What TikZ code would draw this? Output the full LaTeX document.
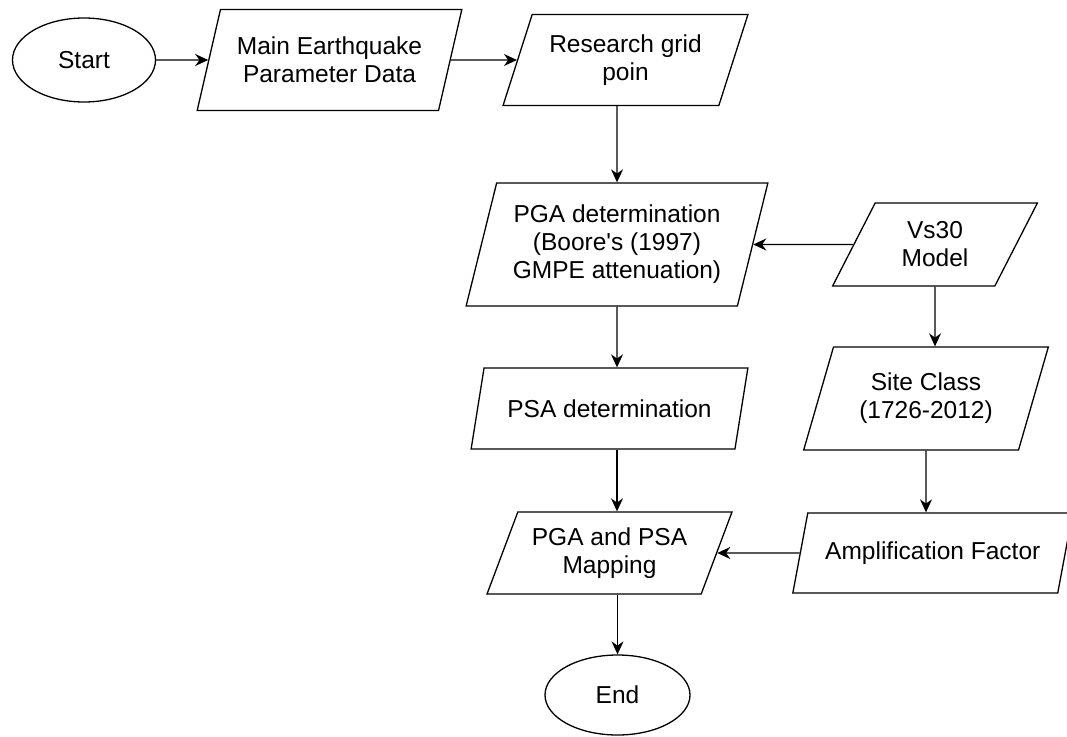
\documentclass[tikz,border=0pt]{standalone}
\usepackage{fontspec}
\setmainfont{Liberation Sans}
\usetikzlibrary{shapes.geometric,arrows.meta,positioning}
\tikzset{
    terminal/.style = {draw, ellipse,
        minimum width=143pt,
        minimum height=84pt},
    io/.style = {draw, trapezium, trapezium stretches=true,
        trapezium left angle=#1,
        trapezium right angle={180-#1},
        align=center, inner sep=2pt},
    io/.default = 64,
}

\begin{document}
\begin{tikzpicture}[auto, on grid, >={Stealth[length=13pt,width=12pt]},
    line width=1.3pt, font=\fontsize{24.5pt}{28pt}\selectfont]
	\useasboundingbox (0,0) rectangle (1067pt,-736pt);
	% start
	\node [terminal] (start) at (84pt,-60pt) {Start};
	
	% input data
	\node [io=68, minimum width=265pt, minimum height=101pt, right=245.5pt of start] (quakeData) {Main Earthquake\\Parameter Data};
	\node [io=66, minimum width=245pt, minimum height=91pt, right=296pt of quakeData] (gridPoint) {Research grid\\poin};
	
	% pga and vs30
	\node [io=72, minimum width=302pt, minimum height=123pt, below=184.5pt of gridPoint, xshift=-8.5pt] (pgaDet) {PGA determination\\(Boore\textquotesingle s (1997)\\GMPE attenuation)};
	\node [io=63, minimum width=205pt, minimum height=83pt, right=318pt of pgaDet] (vsModel) {Vs30\\Model};
	
	% psa and site class
	\node [io, minimum width=277pt, minimum height=81pt, below=164pt of pgaDet, xshift=-7.5pt] (psaDet) {PSA determination};
	\node [io=68, minimum width=245pt, minimum height=103pt, below=154pt of vsModel, xshift=-9pt] (siteClass) {Site Class\\(1726-2012)};
	
	% mapping and amplification
	\node [io, minimum width=245pt, minimum height=82pt, below=144.5pt of psaDet] (pgaPsaMap) {PGA and PSA\\Mapping};
	\node [io, minimum width=280pt, minimum height=80pt, below=154.5pt of siteClass, xshift=6.75pt] (ampFactor) {Amplification Factor};
	
	% end
	\node [terminal, minimum width=145pt, minimum height=80pt, below=142pt of pgaPsaMap, xshift=8pt] (finish) {End};
	
	%%lines
	\draw [->] (start) -- (quakeData);
	\draw [->] (quakeData) -- (gridPoint);
	\draw [->] (gridPoint.south -| pgaDet) -- (pgaDet);
	\draw [->] (vsModel) -- (pgaDet);
	\draw [->] (pgaDet) -- (pgaDet |- psaDet.north);
	\draw [->] (psaDet.south -| pgaDet) -- (pgaPsaMap.north -| pgaDet);
	\draw [->] (pgaPsaMap.south -| finish) -- (finish);
	\draw [->] (vsModel) -- (vsModel |- siteClass.north);
	\draw [->] (siteClass) -- (siteClass |- ampFactor.north);
	\draw [->] (ampFactor) -- (pgaPsaMap);
\end{tikzpicture}
\end{document}
